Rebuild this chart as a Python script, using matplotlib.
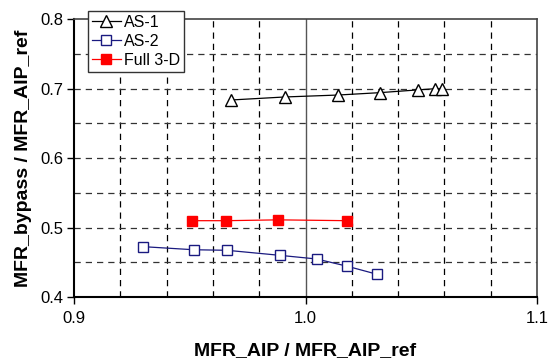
import matplotlib
matplotlib.use("Agg")
import matplotlib.pyplot as plt
import numpy as np

plt.rcParams['font.family'] = ['Liberation Sans', 'DejaVu Sans']

as1_x = [0.968, 0.991, 1.014, 1.032, 1.0485, 1.056, 1.0588]
as1_y = [0.6835, 0.6878, 0.6906, 0.694, 0.698, 0.6997, 0.6997]
as2_x = [0.930, 0.9517, 0.9661, 0.9888, 1.0048, 1.0181, 1.0309]
as2_y = [0.4724, 0.468, 0.4672, 0.460, 0.4547, 0.4442, 0.4327]
full_x = [0.9508, 0.9657, 0.9883, 1.0181]
full_y = [0.5098, 0.5098, 0.511, 0.5098]

xticks = [0.9, 1.0, 1.1]
yticks = [0.4, 0.5, 0.6, 0.7, 0.8]

fig = plt.figure(figsize=(5.56, 3.61), dpi=100)
ax = fig.add_axes([74/556, 1-297/361, 463/556, 278/361])

# grid
for gx in np.arange(0.92, 1.0801, 0.02):
    if abs(gx - 1.0) < 1e-6:
        ax.axvline(gx, color='#555555', lw=1.0, zorder=1)
    else:
        ax.axvline(gx, color='black', lw=0.9, ls=(0, (5, 4)), zorder=1)
for gy in np.arange(0.45, 0.7501, 0.05):
    ax.axhline(gy, color='#333333', lw=0.9, ls=(0, (5, 4)), zorder=1)

ax.plot(as1_x, as1_y, color='black', lw=0.9, marker='^', ms=8, mfc='white', mec='black', mew=1.0, label='AS-1', zorder=3)
ax.plot(as2_x, as2_y, color='#1a1a80', lw=0.9, marker='s', ms=6.5, mfc='white', mec='#1a1a80', mew=1.0, label='AS-2', zorder=3)
ax.plot(full_x, full_y, color='red', lw=0.9, marker='s', ms=6.5, mfc='red', mec='red', label='Full 3-D', zorder=3)

ax.set_xlim(0.9, 1.1)
ax.set_ylim(0.4, 0.8)
ax.set_xticks(xticks)
ax.set_xticklabels(['0.9', '1.0', '1.1'])
ax.set_yticks(yticks)
ax.set_yticklabels(['0.4', '0.5', '0.6', '0.7', '0.8'])
ax.tick_params(axis='both', labelsize=12, direction='out', length=5, width=1.0)
ax.tick_params(axis='x', pad=5)
ax.tick_params(axis='y', pad=3)

for s in ['left', 'bottom']:
    ax.spines[s].set_linewidth(1.5)
    ax.spines[s].set_color('black')
for s in ['top', 'right']:
    ax.spines[s].set_linewidth(1.2)
    ax.spines[s].set_color('#444444')

ax.set_xlabel('MFR_AIP / MFR_AIP_ref', fontsize=14, fontweight='bold', labelpad=12)
ax.set_ylabel('MFR_bypass / MFR_AIP_ref', fontsize=14, fontweight='bold', labelpad=6)

leg = fig.legend(loc='upper left', bbox_to_anchor=(88/556, 1-11/361), fontsize=11.5,
                 frameon=True, fancybox=False, edgecolor='#333333', framealpha=1,
                 handlelength=1.8, handletextpad=0.2, borderpad=0.25, labelspacing=0.25,
                 borderaxespad=0)
leg.get_frame().set_linewidth(1.0)

fig.savefig('out.png', dpi=100)
